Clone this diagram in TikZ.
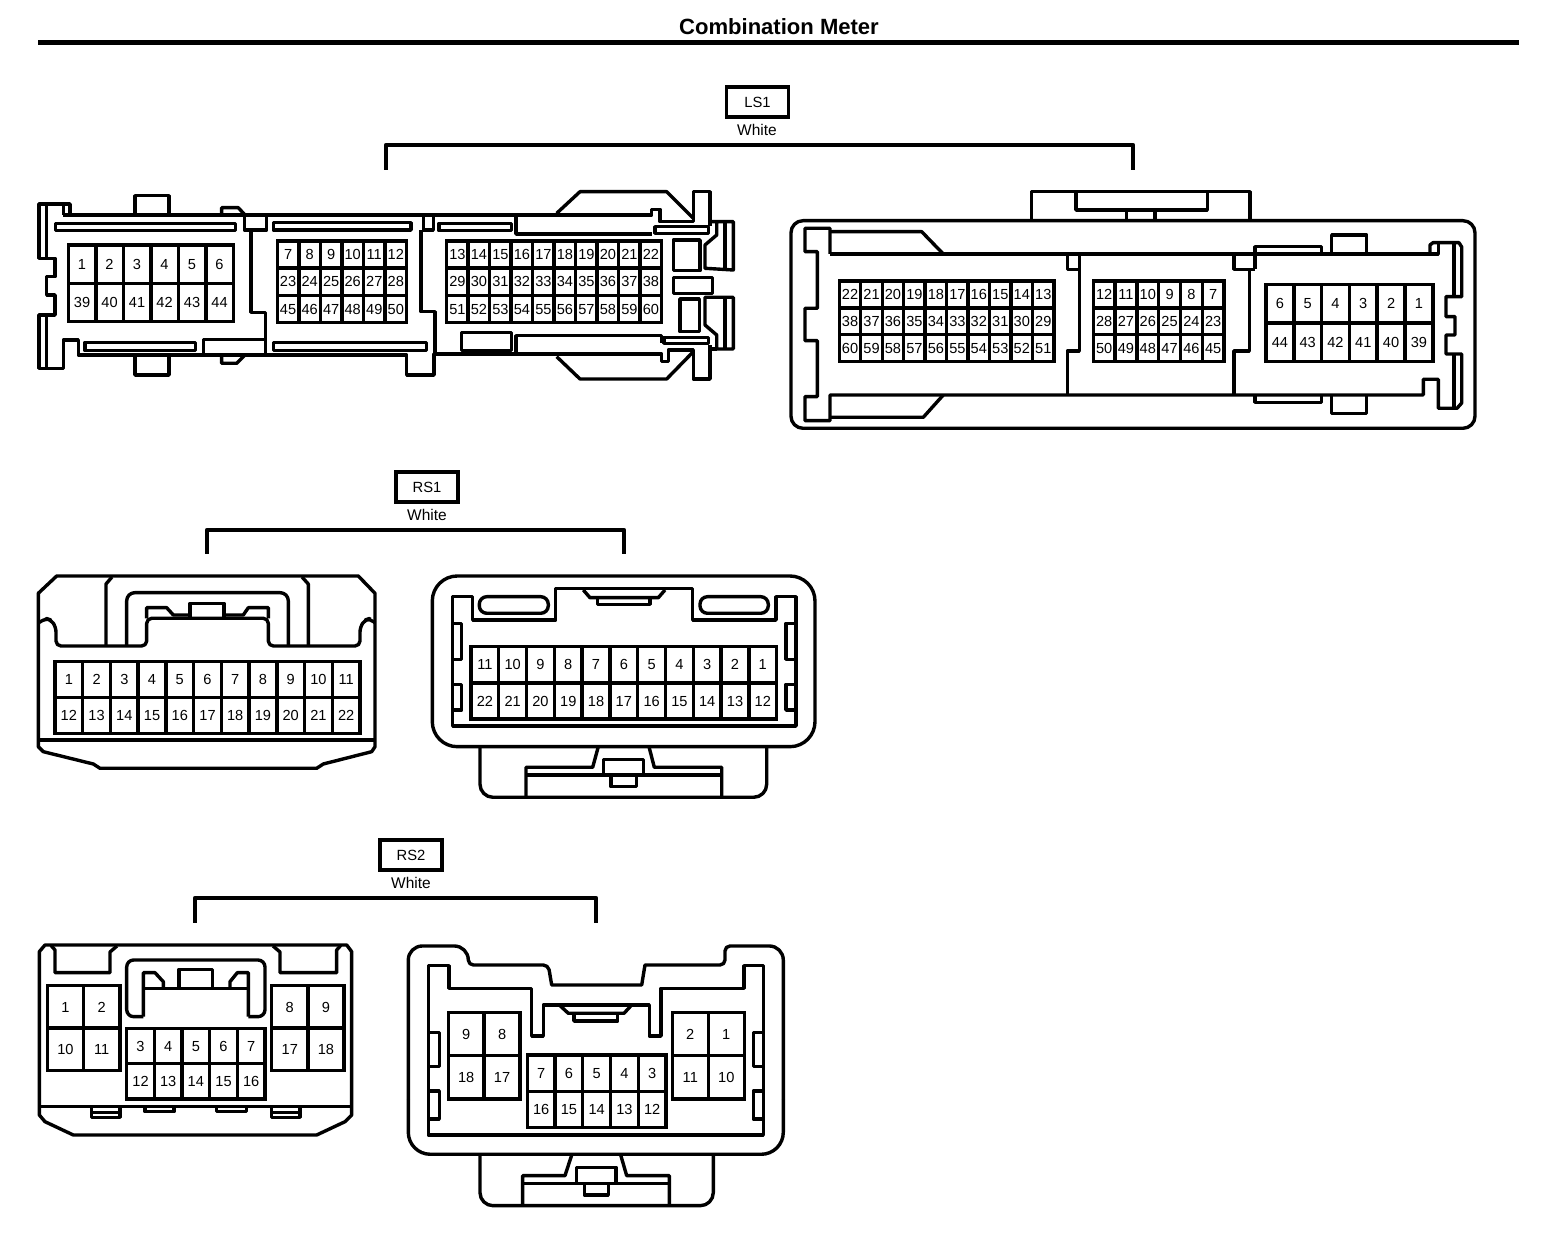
\documentclass[tikz,border=0pt]{standalone}
\usepackage{fontspec}
\setmainfont{Liberation Sans}
\tikzset{
  shell/.style={line width=0.34mm, line join=round},
  heavy/.style={line width=0.42mm, line join=round},
  pincell/.style={draw, line width=0.34mm, inner sep=0pt, outer sep=0pt, text height=2.95pt, text depth=0pt, font=\fontsize{4.15pt}{5pt}\selectfont},
  tagbox/.style={draw, line width=0.36mm, inner sep=0pt, minimum width=6.2mm, minimum height=3mm, font=\fontsize{4.2pt}{5pt}\selectfont},
  tagtext/.style={inner sep=0pt, font=\fontsize{4.4pt}{5pt}\selectfont}
}
\newcommand{\pinrow}[6]{
  \foreach \n [count=\i from 0] in {#6}
    \node [pincell, minimum width=#4*0.1mm, minimum height=#5*0.1mm] (#1\n) at ({#2+(\i+0.5)*#4},{#3+0.5*#5}) {\n};
}
\begin{document}
\begin{tikzpicture}[x=0.01cm,y=-0.01cm]
\useasboundingbox (0,0) rectangle (1568,1234);
\node [inner sep=0pt, font=\fontsize{6.27pt}{8pt}\selectfont\bfseries] (title) at (779,27) {Combination Meter};
\coordinate (rulel) at (38,42.5);
\coordinate (ruler) at (1519,42.5);
\draw [line width=0.48mm] (rulel) -- (ruler);
\node [tagbox] (lsone) at (757.5,102) {LS1};
\node [tagtext] (lsonecol) at (757,130) {White};
\coordinate (lsonel) at (386,170);
\coordinate (lsoner) at (1133,170);
\coordinate (lsonem) at (757,145);
\draw [heavy] (lsonel) |- (lsonem) -| (lsoner);
\node [tagbox] (rsone) at (427,487) {RS1};
\node [tagtext] (rsonecol) at (427,515) {White};
\coordinate (rsonel) at (207,554);
\coordinate (rsoner) at (624,554);
\coordinate (rsonem) at (427,530);
\draw [heavy] (rsonel) |- (rsonem) -| (rsoner);
\node [tagbox] (rstwo) at (411,855) {RS2};
\node [tagtext] (rstwocol) at (411,883) {White};
\coordinate (rstwol) at (195,923);
\coordinate (rstwor) at (596,923);
\coordinate (rstwom) at (411,898);
\draw [heavy] (rstwol) |- (rstwom) -| (rstwor);
\draw [shell] (70,215) -- (70,204) -- (39,204) -- (39,258.3) -- (55,258.3) -- (55,276.7) -- (46.7,276.7) -- (46.7,295) -- (55,295) -- (55,315) -- (39,315) -- (39,368.3) -- (63.3,368.3) -- (63.3,340) -- (78.3,340) -- (78.3,355) -- (406.7,355) -- (406.7,375) -- (434,375) -- (434,354) -- (661.7,354) -- (661.7,361.7) -- (668.3,361.7) -- (668.3,350) -- (693.3,350) -- (693.3,379) -- (710,379) -- (710,345);
\draw [shell] (63.3,215) -- (651.7,215) -- (651.7,209.3) -- (660,209.3) -- (660,221.7) -- (693.3,221.7) -- (693.3,191.7) -- (710,191.7) -- (710,226);
\draw [shell] (63.3,204) -- (63.3,215);
\draw [shell] (46.7,204) -- (46.7,258.3);
\draw [shell] (46.7,315) -- (46.7,368.3);
\draw [shell] (135,215) -- (135,195.7) -- (169,195.7) -- (169,215);
\draw [shell] (135,355) -- (135,375) -- (169,375) -- (169,355);
\draw [shell] (55.7,223.3) rectangle (235.7,230.7);
\draw [shell] (85,342.3) rectangle (195.7,350.7);
\draw [shell] (221.7,215) -- (221.7,207.7) -- (238.3,207.7) -- (245,215);
\draw [shell] (221.7,355) -- (221.7,363.3) -- (236.7,363.3) -- (245,355);
\draw [shell] (244.3,215) rectangle (266.7,230);
\draw [shell] (251,230) -- (251,312.3) -- (265.7,312.3) -- (265.7,355);
\draw [shell] (203.3,355) -- (203.3,339.3) -- (265.7,339.3);
\draw [shell] (273.3,222.7) rectangle (411,230);
\draw [shell] (426.7,342.3) -- (273.3,342.3) -- (273.3,350.7) -- (426.7,350.7) -- cycle;
\draw [shell] (423.3,215) -- (423.3,230) -- (433.3,230) -- (433.3,215);
\draw [shell] (421,230) -- (421,311.7) -- (435,311.7) -- (435,354);
\draw [shell] (439,223.3) rectangle (511.7,230.7);
\draw [shell] (516,215) -- (516,234) -- (651.7,234);
\draw [shell] (461.7,332.7) rectangle (511.7,350.7);
\draw [shell] (516,354) -- (516,335.7) -- (661.7,335.7) -- (661.7,343);
\draw [shell] (556.7,213.3) -- (580,191.7) -- (666.7,191.7) -- (693.3,218.3);
\draw [shell] (556.7,356.7) -- (580,379) -- (666.7,379) -- (693.3,351.7);
\draw [shell] (655,226.7) rectangle (708.3,233.3);
\draw [shell] (664,337.3) rectangle (708.3,343.3);
\draw [shell] (710,221.7) -- (733.3,221.7) -- (733.3,270) -- (705,268.3) -- (705,245) -- (716.7,235) -- (716.7,221.7);
\draw [shell] (725,221.7) -- (725,270);
\draw [shell] (705,297.3) -- (733.3,297.3) -- (733.3,349) -- (716.7,349) -- (716.7,335) -- (705,325) -- cycle;
\draw [shell] (725,297.3) -- (725,349);
\draw [shell] (716.7,349) -- (710,349);
\draw [shell] (673.3,240) rectangle (700,270.7);
\draw [shell] (673.3,277.3) rectangle (712.7,293.3);
\draw [shell] (680,299) rectangle (699.3,331.7);
\pinrow{lsl}{68.3}{245}{27.5}{38.3}{1,...,6}
\pinrow{lsl}{68.3}{283.3}{27.5}{38.3}{39,...,44}
\pinrow{lsl}{277.3}{241}{21.55}{27.2}{7,...,12}
\pinrow{lsl}{277.3}{268.2}{21.55}{27.2}{23,...,28}
\pinrow{lsl}{277.3}{295.4}{21.55}{27.2}{45,...,50}
\pinrow{lsl}{446.7}{241}{21.5}{27.2}{13,...,22}
\pinrow{lsl}{446.7}{268.2}{21.5}{27.2}{29,...,38}
\pinrow{lsl}{446.7}{295.4}{21.5}{27.2}{51,...,60}
\draw [shell, rounded corners=1.2mm] (791,220.7) rectangle (1475,428.3);
\draw [shell] (1031.7,220.7) -- (1031.7,191.7) -- (1250,191.7) -- (1250,220.7);
\draw [shell] (1076,191.7) -- (1076,210) -- (1207.3,210) -- (1207.3,191.7);
\draw [shell] (1126.7,210) -- (1126.7,220.7);
\draw [shell] (1155,210) -- (1155,220.7);
\draw [shell] (830,254) -- (830,228.3) -- (805,228.3) -- (805,251.7) -- (817.3,251.7) -- (817.3,308.3) -- (805,308.3) -- (805,340.7) -- (817.3,340.7) -- (817.3,396.7) -- (805,396.7) -- (805,420.7) -- (830,420.7) -- (830,395) -- (1423.3,395) -- (1423.3,379.3) -- (1438.3,379.3) -- (1438.3,408.3) -- (1457,408.3) -- (1461.7,403) -- (1461.7,354) -- (1446,354) -- (1446,335) -- (1455,335) -- (1455,316.7) -- (1446,316.7) -- (1446,296.7) -- (1461.7,296.7) -- (1461.7,247) -- (1459,242.7) -- (1433,242.7) -- (1430,245) -- (1430,254);
\draw [shell] (830,254) -- (1438.3,254) -- (1438.3,242.7);
\draw [shell] (1454,242.7) -- (1454,296.7);
\draw [shell] (1454,354) -- (1454,408.3);
\draw [shell] (830,231.7) -- (921.7,231.7) -- (943.3,254);
\draw [shell] (830,417.3) -- (923.3,417.3) -- (943.3,395);
\draw [shell] (1067.3,254) -- (1067.3,269.3) -- (1079.3,269.3);
\draw [shell] (1079.3,254) -- (1079.3,351) -- (1067.3,351) -- (1067.3,395);
\draw [shell] (1234,254) -- (1234,269.3) -- (1255,269.3);
\draw [shell] (1249.3,269.3) -- (1249.3,351) -- (1234,351) -- (1234,395);
\draw [shell] (1255,269.3) -- (1255,246.7) -- (1321.7,246.7) -- (1321.7,254);
\draw [shell] (1331.7,254) -- (1331.7,235) -- (1366.7,235) -- (1366.7,254);
\draw [shell] (1331.7,395) -- (1331.7,413.3) -- (1366.7,413.3) -- (1366.7,395);
\draw [shell] (1255,395) -- (1255,402.3) -- (1321.7,402.3) -- (1321.7,395);
\pinrow{lsr}{839.3}{281}{21.47}{26.9}{22,21,...,13}
\pinrow{lsr}{839.3}{307.9}{21.47}{26.9}{38,37,...,29}
\pinrow{lsr}{839.3}{334.8}{21.47}{26.9}{60,59,...,51}
\pinrow{lsr}{1093.3}{281}{21.8}{26.9}{12,11,...,7}
\pinrow{lsr}{1093.3}{307.9}{21.8}{26.9}{28,27,...,23}
\pinrow{lsr}{1093.3}{334.8}{21.8}{26.9}{50,49,...,45}
\pinrow{lsr}{1266}{284.3}{27.8}{38.7}{6,5,...,1}
\pinrow{lsr}{1266}{323}{27.8}{38.7}{44,43,...,39}
\draw [shell] (38.3,593.3) -- (56.7,576) -- (358.3,576) -- (375,593.3) -- (375,746.7) -- (371.7,751.7) -- (323.3,764) -- (316.7,768.3) -- (100,768.3) -- (93.3,764) -- (43.3,751.7) -- (38.3,746.7) -- cycle;
\draw [shell] (38.3,740) -- (375,740);
\draw [shell, rounded corners=0.5mm] (38.3,623) -- (46,618.3) -- (51,620) -- (56,627) -- (56,646) -- (146.7,646) -- (146.7,618.3) -- (268.3,618.3) -- (268.3,646) -- (360,646) -- (360,627) -- (365,620) -- (370,618.3) -- (375,623);
\draw [shell] (106,646) -- (106,584) -- (112,577);
\draw [shell] (308.3,646) -- (308.3,584) -- (302,577);
\draw [shell, rounded corners=0.8mm] (126.7,646) -- (126.7,592.7) -- (288.3,592.7) -- (288.3,646);
\draw [shell] (146.7,618.3) -- (146.7,607.7) -- (166.7,607.7) -- (173.3,615) -- (190,615);
\draw [shell] (268.3,618.3) -- (268.3,607.7) -- (248.3,607.7) -- (243.3,615) -- (224,615);
\draw [shell] (190,618.3) -- (190,603.3) -- (224,603.3) -- (224,618.3);
\pinrow{rsl}{55}{661.7}{27.73}{35.8}{1,...,11}
\pinrow{rsl}{55}{697.5}{27.73}{35.8}{12,...,22}
\draw [shell, rounded corners=2.5mm] (432.3,576) rectangle (815,746.7);
\draw [shell] (452.7,596.7) -- (472.7,596.7) -- (472.7,620) -- (555.7,620) -- (555.7,588.3) -- (692.7,588.3) -- (692.7,620) -- (776,620) -- (776,596.7) -- (796,596.7) -- (796,726) -- (452.7,726) -- cycle;
\draw [shell] (452.7,623.3) -- (461.7,623.3) -- (461.7,659.3) -- (452.7,659.3);
\draw [shell] (452.7,684.3) -- (461.7,684.3) -- (461.7,710) -- (452.7,710);
\draw [shell] (796,623.3) -- (786,623.3) -- (786,659.3) -- (796,659.3);
\draw [shell] (796,684.3) -- (786,684.3) -- (786,710) -- (796,710);
\draw [shell, rounded corners=0.75mm] (479.3,596.7) rectangle (548.3,613.3);
\draw [shell, rounded corners=0.75mm] (700,596.7) rectangle (768.3,613.3);
\draw [shell] (583.3,590) -- (590,597.7) -- (658.3,597.7) -- (665,590);
\draw [shell] (597.3,597.7) -- (597.3,604.3) -- (650,604.3) -- (650,597.7);
\draw [shell, rounded corners=1.3mm] (480,746.7) -- (480,797.3) -- (766.7,797.3) -- (766.7,746.7);
\draw [shell] (526,797.3) -- (526,767.3) -- (592.7,767.3) -- (598.3,746.7);
\draw [shell] (721.7,797.3) -- (721.7,767.3) -- (654.3,767.3) -- (649,746.7);
\draw [shell] (526,775) -- (721.7,775);
\draw [shell] (603.3,775) -- (603.3,759.3) -- (643.3,759.3) -- (643.3,775);
\draw [shell] (611,775) -- (611,786.7) -- (636.7,786.7) -- (636.7,775);
\pinrow{rsr}{471}{646.7}{27.79}{36.2}{11,10,...,1}
\pinrow{rsr}{471}{682.9}{27.79}{36.2}{22,21,...,12}
\draw [shell] (39.3,951.7) -- (45,945) -- (346.7,945) -- (351.7,951.7) -- (351.7,1115) -- (345,1121.7) -- (316.7,1135) -- (73.3,1135) -- (45,1121.7) -- (39.3,1115) -- cycle;
\draw [shell] (39.3,1106.7) -- (351.7,1106.7);
\draw [shell] (51,945.5) -- (55,950) -- (55,972.7) -- (110,972.7) -- (110,952) -- (117,946);
\draw [shell] (340.7,945.5) -- (336.7,950) -- (336.7,972.7) -- (280,972.7) -- (280,952) -- (273,946);
\draw [shell, rounded corners=0.7mm] (143.3,1016.7) -- (126.7,1016.7) -- (126.7,960) -- (265,960) -- (265,1016.7) -- (248.3,1016.7);
\draw [shell] (143.3,1016.7) -- (143.3,972.7) -- (155,972.7) -- (163.3,981.7) -- (163.3,988.3);
\draw [shell] (248.3,1016.7) -- (248.3,972.7) -- (237.3,972.7) -- (230,981.7) -- (230,988.3);
\draw [shell] (143.3,988.3) -- (248.3,988.3);
\draw [shell] (179,988.3) -- (179,969.3) -- (212.7,969.3) -- (212.7,988.3);
\draw [shell] (91.7,1106.7) -- (91.7,1117.3) -- (120,1117.3) -- (120,1106.7);
\draw [shell] (91.7,1112.7) -- (120,1112.7);
\draw [shell] (271.7,1106.7) -- (271.7,1117.3) -- (300,1117.3) -- (300,1106.7);
\draw [shell] (271.7,1112.7) -- (300,1112.7);
\draw [shell] (145,1106.7) -- (145,1111.7) -- (174,1111.7) -- (174,1106.7);
\draw [shell] (216.7,1106.7) -- (216.7,1111.7) -- (246.7,1111.7) -- (246.7,1106.7);
\pinrow{rtl}{47.3}{985.7}{36.3}{42.5}{1,2}
\pinrow{rtl}{47.3}{1028.2}{36.3}{42.5}{10,11}
\pinrow{rtl}{271.7}{985.7}{36.2}{42.5}{8,9}
\pinrow{rtl}{271.7}{1028.2}{36.2}{42.5}{17,18}
\pinrow{rtl}{126.7}{1028.3}{27.66}{35.3}{3,...,7}
\pinrow{rtl}{126.7}{1063.6}{27.66}{35.3}{12,...,16}
\draw [shell, rounded corners=1.4mm] (408.3,1100) -- (408.3,946) -- (468.3,946) [rounded corners=0.5mm] -- (468.3,965) -- (548.3,965) [sharp corners] -- (551.7,985) -- (641.7,985) -- (645,965) [rounded corners=0.5mm] -- (725,965) -- (725,946) [rounded corners=1.4mm] -- (783.3,946) -- (783.3,1100);
\draw [shell, rounded corners=2.2mm] (408.3,1100) -- (408.3,1154.3) -- (783.3,1154.3) -- (783.3,1100);
\draw [shell] (428.3,965.7) -- (449,965.7) -- (449,988.3) -- (531.7,988.3) -- (531.7,1036) -- (543.3,1036) -- (543.3,1005) -- (649.3,1005) -- (649.3,1036) -- (661,1036) -- (661,988.3) -- (744,988.3) -- (744,965.7) -- (763.3,965.7) -- (763.3,1135) -- (428.3,1135) -- cycle;
\draw [shell] (559.3,1005) -- (568.3,1013.3) -- (624,1013.3) -- (631.7,1005);
\draw [shell] (574,1013.3) -- (574,1021) -- (617.7,1021) -- (617.7,1013.3);
\draw [shell] (428.3,1032.3) -- (439.3,1032.3) -- (439.3,1066.7) -- (428.3,1066.7);
\draw [shell] (428.3,1091) -- (439.3,1091) -- (439.3,1119) -- (428.3,1119);
\draw [shell] (763.3,1032.3) -- (753.3,1032.3) -- (753.3,1066.7) -- (763.3,1066.7);
\draw [shell] (763.3,1091) -- (753.3,1091) -- (753.3,1119) -- (763.3,1119);
\draw [shell, rounded corners=1.3mm] (480,1154.3) -- (480,1205.7) -- (713.3,1205.7) -- (713.3,1154.3);
\draw [shell] (522.7,1205.7) -- (522.7,1175.7) -- (565,1175.7) -- (571.7,1155);
\draw [shell] (669.3,1205.7) -- (669.3,1175.7) -- (626.7,1175.7) -- (620.7,1155);
\draw [shell] (522.7,1183.3) -- (669.3,1183.3);
\draw [shell] (576.7,1183.3) -- (576.7,1167.3) -- (616,1167.3) -- (616,1183.3);
\draw [shell] (584.3,1183.3) -- (584.3,1195) -- (608.3,1195) -- (608.3,1183.3);
\pinrow{rtr}{448.3}{1012.3}{35.85}{43.4}{9,8}
\pinrow{rtr}{448.3}{1055.7}{35.85}{43.4}{18,17}
\pinrow{rtr}{672.3}{1012.3}{36}{43.4}{2,1}
\pinrow{rtr}{672.3}{1055.7}{36}{43.4}{11,10}
\pinrow{rtr}{527.3}{1055}{27.74}{36.3}{7,6,...,3}
\pinrow{rtr}{527.3}{1091.3}{27.74}{36.3}{16,15,...,12}
\end{tikzpicture}
\end{document}
